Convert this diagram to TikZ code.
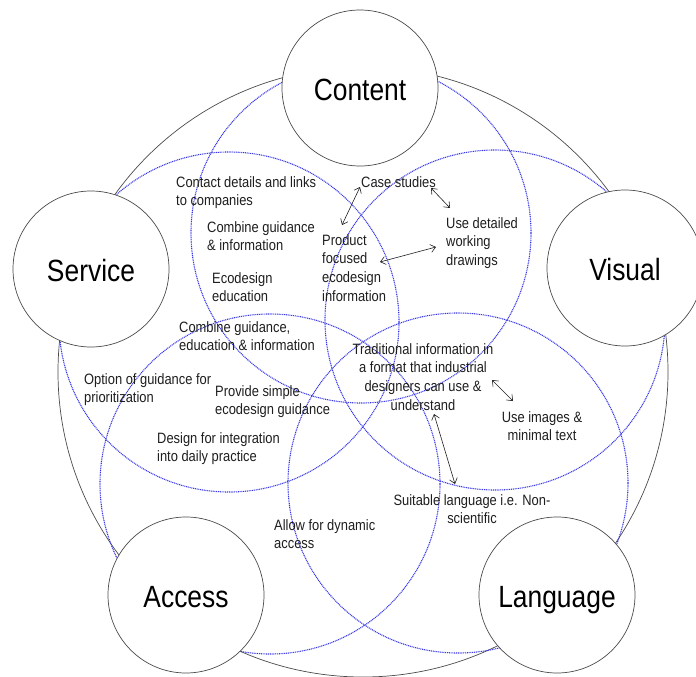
\documentclass[tikz,border=0pt]{standalone}
\usepackage{fontspec}
\setmainfont{Liberation Sans}
\newfontfamily\narrowfont{Liberation Sans}[FakeStretch=0.86]
\usetikzlibrary{arrows.meta}
\definecolor{bluedot}{RGB}{55,55,230}
\definecolor{ink}{RGB}{30,30,30}
\begin{document}
\begin{tikzpicture}[x=1pt,y=-1pt,
  bigring/.style={draw=ink!80, line width=0.7pt},
  bluering/.style={draw=bluedot, line width=1.1pt, dash pattern=on 1pt off 0.8pt},
  attr/.style={circle, draw=ink!80, fill=white, line width=0.7pt, minimum size=156pt, inner sep=0pt,
    font=\narrowfont\fontsize{30.7}{34}\selectfont, text height=24pt, text depth=0pt},
  lbl/.style={inner sep=0pt, font=\narrowfont\fontsize{15}{18.8}\selectfont, text=ink},
  lblL/.style={lbl, align=left, anchor=north west},
  lblC/.style={lbl, align=center, anchor=north},
  link/.style={draw=ink, line width=0.6pt, {Straight Barb[length=5pt,width=8pt]}-{Straight Barb[length=5pt,width=8pt]}}
]
\useasboundingbox (0,0) rectangle (696,677);
\clip (0,0) rectangle (696,677);

% outer ring
\draw[bigring] (363,372) circle[radius=305pt];

% blue dotted rings
\draw[bluering] (361,233) circle[radius=170pt];
\draw[bluering] (229,322) circle[radius=170pt];
\draw[bluering] (495,320) circle[radius=170pt];
\draw[bluering] (270,484) circle[radius=170pt];
\draw[bluering] (458,483) circle[radius=170pt];

% attribute circles
\node[attr] (content)  at (360,88)  {Content};
\node[attr] (service)  at (91,269)  {Service};
\node[attr] (visual)   at (625,268) {Visual};
\node[attr] (access)   at (186,595) {Access};
\node[attr] (language) at (557,595) {Language};

% labels
\node[lblL] (t1)  at (176,176) {Contact details and links\\to companies};
\node[lblL] (t2)  at (207,221) {Combine guidance\\\& information};
\node[lblL] (t3)  at (212,272) {Ecodesign\\education};
\node[lblL] (t4)  at (179,321) {Combine guidance,\\education \& information};
\node[lblL] (t5)  at (322,234) {Product\\focused\\ecodesign\\information};
\node[lblL] (t6)  at (361,176) {Case studies};
\node[lblL] (t7)  at (446,217) {Use detailed\\working\\drawings};
\node[lblC] (t8)  at (423,343) {Traditional information in\\a format that industrial\\designers can use \&\\understand};
\node[lblC] (t9)  at (542,411) {Use images \&\\minimal text};
\node[lblC] (t10) at (472,494) {Suitable language i.e. Non-\\scientific};
\node[lblL] (t11) at (274,519) {Allow for dynamic\\access};
\node[lblL] (t12) at (84,373)  {Option of guidance for\\prioritization};
\node[lblL] (t13) at (215,385) {Provide simple\\ecodesign guidance};
\node[lblL] (t14) at (157,432) {Design for integration\\into daily practice};

% arrow end points
\coordinate (a1s) at (342,225);
\coordinate (a1e) at (360,187);
\coordinate (a2s) at (431,188);
\coordinate (a2e) at (450,208);
\coordinate (a3s) at (380,262);
\coordinate (a3e) at (436,247);
\coordinate (a4s) at (492,380);
\coordinate (a4e) at (513,401);
\coordinate (a5s) at (434,414);
\coordinate (a5e) at (455,484);

\draw[link] (a1s) -- (a1e);
\draw[link] (a2s) -- (a2e);
\draw[link] (a3s) -- (a3e);
\draw[link] (a4s) -- (a4e);
\draw[link] (a5s) -- (a5e);
\end{tikzpicture}
\end{document}
